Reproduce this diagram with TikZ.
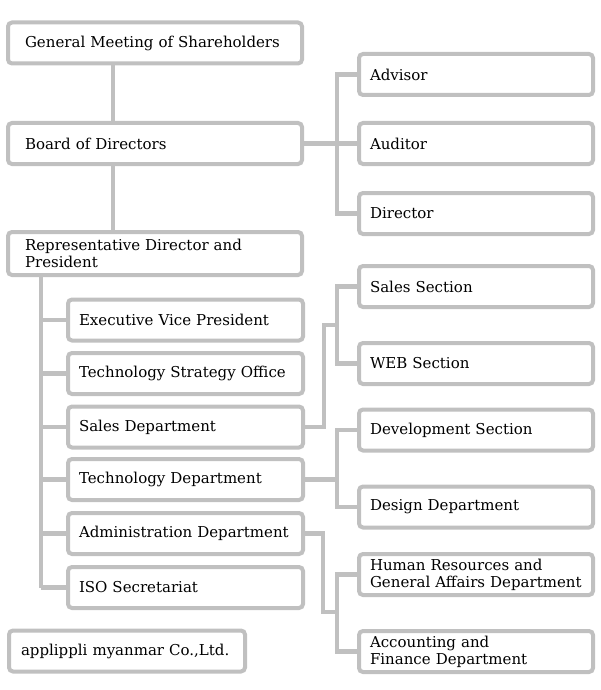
\documentclass[tikz,border=0pt]{standalone}
\usepackage{fontspec}
\setmainfont{DejaVu Serif}
\usepackage{tikz}
\usetikzlibrary{calc}
\definecolor{linegray}{RGB}{192,192,192}

\begin{document}
\begin{tikzpicture}[x=1pt, y=-1pt,
        every node/.style={font=\fontsize{15}{17}\selectfont},
        orgbox/.style={draw=linegray, line width=4pt, rounded corners=4pt, fill=white,
                       minimum height=41pt, align=left, inner ysep=0pt},
        topbox/.style={orgbox, minimum width=294pt, text width=260pt, inner xsep=17pt},
        subbox/.style={orgbox, minimum width=235pt, text width=213pt, inner xsep=11pt},
        rightbox/.style={orgbox, minimum width=234pt, text width=212pt, inner xsep=11pt},
        link/.style={draw=linegray, line width=4.5pt}]
        \useasboundingbox (0, 0) rectangle (600, 690);

        \coordinate (trunk) at (113, 0);
        \coordinate (spine) at (41, 0);
        \coordinate (bus) at (337, 0);

        \node[topbox] (gms) at (155, 43) {General Meeting of Shareholders};
        \node[topbox] (board) at (155, 143.5) {Board of Directors};
        \node[topbox, minimum height=43pt] (rep) at (155, 253.5) {Representative Director and\\President};

        \node[rightbox] (advisor) at (476, 74.5) {Advisor};
        \node[rightbox] (auditor) at (476, 143.5) {Auditor};
        \node[rightbox] (director) at (476, 213.5) {Director};

        \node[subbox] (evp) at (185.5, 320) {Executive Vice President};
        \node[subbox] (tso) at (185.5, 373.5) {Technology Strategy Office};
        \node[subbox] (sales) at (185.5, 427) {Sales Department};
        \node[subbox] (tech) at (185.5, 479.5) {Technology Department};
        \node[subbox] (admin) at (185.5, 533.5) {Administration Department};
        \node[subbox] (iso) at (185.5, 587.5) {ISO Secretariat};

        \node[rightbox] (salessec) at (476, 286.5) {Sales Section};
        \node[rightbox] (websec) at (476, 363.5) {WEB Section};
        \node[rightbox] (devsec) at (476, 430) {Development Section};
        \node[rightbox] (design) at (476, 507) {Design Department};
        \node[rightbox] (hr) at (476, 574.5) {Human Resources and\\General Affairs Department};
        \node[rightbox] (acct) at (476, 651.5) {Accounting and\\Finance Department};

        \node[orgbox, minimum width=236pt, text width=212pt, inner xsep=12pt] (myanmar) at (127, 651) {applippli myanmar Co.,Ltd.};

        % top of the chart
        \draw[link] (gms.south -| trunk) -- (board.north -| trunk);
        \draw[link] (board.south -| trunk) -- (rep.north -| trunk);
        \draw[link] (board.east) -- (auditor.west);
        \draw[link] (advisor.west) -- (advisor.west -| bus) -- (director.west -| bus) -- (director.west);

        % under the president
        \draw[link] (rep.south -| spine) -- (iso.west -| spine);
        \foreach \n in {evp, tso, sales, tech, admin, iso}
            \draw[link] (\n.west -| spine) -- (\n.west);

        % sections
        \draw[link] (sales.east) -- ++(19, 0) |- (bus |- 0, 325);
        \draw[link] (salessec.west) -- (salessec.west -| bus) -- (websec.west -| bus) -- (websec.west);
        \draw[link] (tech.east) -- (tech.east -| bus);
        \draw[link] (devsec.west) -- (devsec.west -| bus) -- (design.west -| bus) -- (design.west);
        \draw[link] (admin.east) -- ++(18, 0) |- (bus |- 0, 612);
        \draw[link] (hr.west) -- (hr.west -| bus) -- (acct.west -| bus) -- (acct.west);

    \end{tikzpicture}
\end{document}
